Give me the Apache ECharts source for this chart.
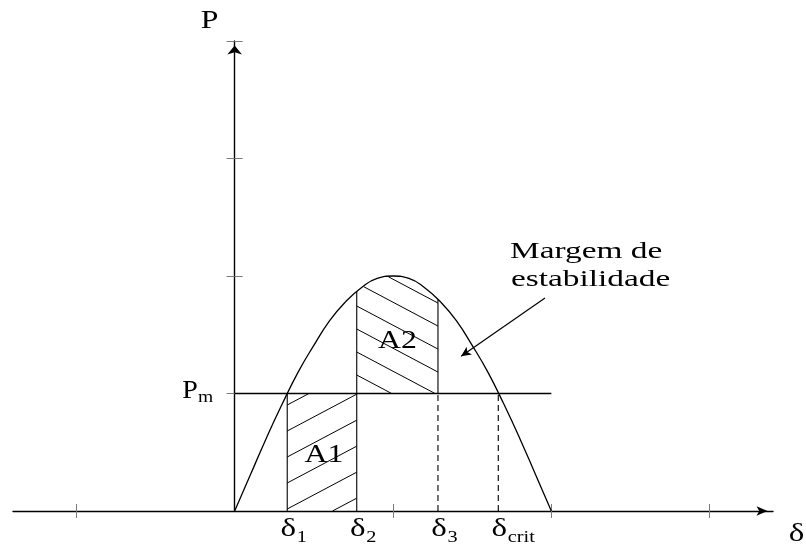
<!DOCTYPE html>
<html>
<head>
<meta charset="utf-8">
<script src="https://cdn.jsdelivr.net/npm/echarts@6/dist/echarts.min.js"></script>
<style>
  html, body { margin: 0; padding: 0; background: #ffffff; }
  #chart { width: 806px; height: 545px; }
</style>
</head>
<body>
<div id="chart"></div>
<script>
// Power–angle characteristic P(δ) with the equal-area regions A1 / A2.

// Curve samples (δ, P)
const deltaSamples = [0, 0.1, 0.2, 0.3, 0.4, 0.5, 0.6, 0.7, 0.8, 0.9, 1.0,
                      1.1, 1.2, 1.3, 1.4, 1.5, 1.6, 1.7, 1.8, 1.9, 2.0];
const powerSamples = [0, 0.31, 0.62, 0.91, 1.18, 1.41, 1.62, 1.78, 1.90, 1.98, 2.00,
                      1.98, 1.90, 1.78, 1.62, 1.41, 1.18, 0.91, 0.62, 0.31, 0];

// Mechanical power level Pm and its extent along δ
const mechanicalPower = 1;
const pmLineStart = 0;
const pmLineEnd = 2;

// Characteristic angles δ1, δ2, δ3, δcrit
const deltaMarks = [0.332, 0.771, 1.284, 1.665];
const deltaSubscripts = ['1', '2', '3', 'crit'];

// Curve height at δ2 and δ3 (top of the A2 region)
const powerAtDelta2 = 1.87;
const powerAtDelta3 = 1.80;

// Axis extents and tick positions
const xRange = [-1.4, 3.4];
const yRange = [0, 4];
const xTicks = [-1, 1, 2, 3];
const yTicks = [1, 2, 3, 4];

// Arrow pointing at the stability margin (from, to)
const marginArrow = [[1.96, 1.813], [1.43, 1.317]];

// Texts
const axisNameP = 'P';
const axisNameDelta = 'δ';
const pmMain = 'P';
const pmSub = 'm';
const areaNames = ['A1', 'A2'];
const marginText = ['Margem de', 'estabilidade'];

const SERIF = '"Liberation Serif", "Times New Roman", serif';
const TEXT_SX = 1.27;   // horizontal stretch of the labels
const NOTE_SX = 1.45;

function text(x, y, s, size, align, sx) {
  return {
    type: 'text', x: x, y: y, scaleX: sx, scaleY: 1,
    style: {
      text: s, font: size + 'px ' + SERIF, fill: '#000',
      textAlign: align, textVerticalAlign: 'middle'
    }
  };
}

// Clip a family of parallel hatch lines to the band topAt(x) <= y <= botAt(x), xL <= x <= xR
function hatch(xL, xR, topAt, botAt, y0, slope, gap) {
  const out = [];
  const n = Math.ceil((xR - xL) * 4);
  for (let k = -12; k <= 12; k++) {
    const b = y0 + k * gap;
    let s = null, e = null;
    for (let i = 0; i <= n; i++) {
      const x = xL + (xR - xL) * i / n;
      const y = b + slope * (x - xL);
      if (y >= topAt(x) - 0.01 && y <= botAt(x) + 0.01) {
        if (s === null) s = x;
        e = x;
      }
    }
    if (s !== null && e - s > 0.5) {
      out.push({
        type: 'line',
        shape: { x1: s, y1: b + slope * (s - xL), x2: e, y2: b + slope * (e - xL) },
        style: { stroke: '#000', lineWidth: 1 }
      });
    }
  }
  return out;
}

function curvePixelTop(api) {
  const pts = deltaSamples.map((d, i) => api.coord([d, powerSamples[i]]));
  return function (x) {
    for (let i = 0; i < pts.length - 1; i++) {
      const a = pts[i], b = pts[i + 1];
      if (x >= a[0] && x <= b[0]) {
        const t = (x - a[0]) / (b[0] - a[0]);
        return a[1] + t * (b[1] - a[1]);
      }
    }
    return pts[pts.length - 1][1];
  };
}

const chart = echarts.init(document.getElementById('chart'), null, { renderer: 'canvas' });

const tickStyle = { color: '#7a7a7a', width: 1 };

const option = {
  animation: false,
  backgroundColor: '#ffffff',
  grid: { left: 13, right: 33, top: 41, bottom: 34, containLabel: false },
  xAxis: [
    {
      type: 'value', min: xRange[0], max: xRange[1],
      axisLine: {
        onZero: true, symbol: ['none', 'arrow'], symbolSize: [7, 11], symbolOffset: [0, -5.5],
        lineStyle: { color: '#000', width: 1.4 }
      },
      axisTick: { show: true, customValues: xTicks, length: 7, inside: false, lineStyle: tickStyle },
      axisLabel: { show: false },
      splitLine: { show: false }
    },
    {
      type: 'value', min: xRange[0], max: xRange[1], position: 'bottom',
      axisLine: { show: false, onZero: true },
      axisTick: { show: true, customValues: xTicks, length: 7, inside: true, lineStyle: tickStyle },
      axisLabel: { show: false },
      splitLine: { show: false }
    }
  ],
  yAxis: [
    {
      type: 'value', min: yRange[0], max: yRange[1],
      axisLine: {
        onZero: true, symbol: ['none', 'arrow'], symbolSize: [11, 9], symbolOffset: [0, -4.5],
        lineStyle: { color: '#000', width: 1.4 }
      },
      axisTick: { show: true, customValues: yTicks, length: 8, inside: false, lineStyle: tickStyle },
      axisLabel: { show: false },
      splitLine: { show: false }
    },
    {
      type: 'value', min: yRange[0], max: yRange[1], position: 'left',
      axisLine: { show: false, onZero: true },
      axisTick: { show: true, customValues: yTicks, length: 8, inside: true, lineStyle: tickStyle },
      axisLabel: { show: false },
      splitLine: { show: false }
    }
  ],
  series: [
    // Hatching of A1 (rectangle below Pm) and A2 (between Pm and the curve)
    {
      type: 'custom', name: 'hatch', silent: true, z: 2,
      data: [[0, 0]],
      renderItem: function (params, api) {
        const l1 = api.coord([deltaMarks[0], 0]);
        const r1 = api.coord([deltaMarks[1], mechanicalPower]);
        const a1 = hatch(l1[0], r1[0], () => r1[1], () => l1[1], l1[1] - 2, -0.53, 26);
        const l2 = api.coord([deltaMarks[1], mechanicalPower]);
        const r2 = api.coord([deltaMarks[2], mechanicalPower]);
        const top = curvePixelTop(api);
        const a2 = hatch(l2[0], r2[0], top, () => l2[1], l2[1] - 18.5, 0.53, 23);
        return { type: 'group', children: a1.concat(a2) };
      }
    },
    // Power–angle curve
    {
      type: 'line', name: 'P(δ)', z: 5,
      data: deltaSamples.map((d, i) => [d, powerSamples[i]]),
      smooth: true, showSymbol: false, silent: true,
      lineStyle: { color: '#000', width: 1.3 }
    },
    // Pm level and the stability margin arrow
    {
      type: 'line', name: 'Pm', z: 5,
      data: [[pmLineStart, mechanicalPower], [pmLineEnd, mechanicalPower]],
      showSymbol: false, silent: true,
      lineStyle: { color: '#000', width: 1.3 },
      markLine: {
        silent: true, animation: false,
        symbol: ['none', 'arrow'], symbolSize: [7, 10],
        label: { show: false },
        lineStyle: { color: '#000', width: 1.2, type: 'solid' },
        emphasis: { disabled: true },
        data: [[{ coord: marginArrow[0] }, { coord: marginArrow[1] }]]
      }
    },
    // Region borders at δ1, δ2, δ3 (solid) and projections to the δ axis (dashed)
    {
      type: 'custom', name: 'borders', silent: true, z: 4,
      data: [[0, 0]],
      renderItem: function (params, api) {
        const solid = [
          [[deltaMarks[0], 0], [deltaMarks[0], mechanicalPower]],
          [[deltaMarks[1], 0], [deltaMarks[1], powerAtDelta2]],
          [[deltaMarks[2], mechanicalPower], [deltaMarks[2], powerAtDelta3]]
        ];
        const dashed = [
          [[deltaMarks[2], 0], [deltaMarks[2], mechanicalPower]],
          [[deltaMarks[3], 0], [deltaMarks[3], mechanicalPower]]
        ];
        const seg = (s, dash) => {
          const a = api.coord(s[0]), b = api.coord(s[1]);
          return {
            type: 'line', shape: { x1: a[0], y1: a[1], x2: b[0], y2: b[1] },
            style: { stroke: '#000', lineWidth: 1.1, lineDash: dash ? [6, 4] : null }
          };
        };
        return {
          type: 'group',
          children: solid.map(s => seg(s, false)).concat(dashed.map(s => seg(s, true)))
        };
      }
    },
    // Labels
    {
      type: 'custom', name: 'labels', silent: true, z: 10,
      data: [[0, 0]],
      renderItem: function (params, api) {
        const kids = [];
        // δ1 … δcrit under the axis
        deltaMarks.forEach((d, i) => {
          const p = api.coord([d, 0]);
          kids.push(text(p[0] + 1, p[1] + 18, 'δ', 26, 'center', TEXT_SX));
          kids.push(text(p[0] + 9.5, p[1] + 26.5, deltaSubscripts[i], 16, 'left', TEXT_SX));
        });
        // Axis names
        const yEnd = api.coord([0, yRange[1]]);
        kids.push(text(yEnd[0] - 25, yEnd[1] - 20, axisNameP, 25, 'center', TEXT_SX));
        const xEnd = api.coord([xRange[1], 0]);
        kids.push(text(xEnd[0] + 23.5, xEnd[1] + 23, axisNameDelta, 26, 'center', TEXT_SX));
        // Pm
        const pm = api.coord([0, mechanicalPower]);
        kids.push(text(pm[0] - 44.7, pm[1] - 2.5, pmMain, 25, 'center', 1.12));
        kids.push(text(pm[0] - 36.7, pm[1] + 4.5, pmSub, 17, 'left', 1.15));
        // Area names
        const c1a = api.coord([deltaMarks[0], 0]);
        const c1b = api.coord([deltaMarks[1], mechanicalPower]);
        kids.push(text((c1a[0] + c1b[0]) / 2 + 2, (c1a[1] + c1b[1]) / 2 + 3, areaNames[0], 25, 'center', TEXT_SX));
        const c2a = api.coord([deltaMarks[1], mechanicalPower]);
        const c2b = api.coord([deltaMarks[2], mechanicalPower]);
        kids.push(text((c2a[0] + c2b[0]) / 2, c2a[1] - 52, areaNames[1], 25, 'center', TEXT_SX));
        // Stability margin note
        const tail = api.coord(marginArrow[0]);
        kids.push(text(tail[0] - 35, tail[1] - 46, marginText[0], 23, 'left', NOTE_SX));
        kids.push(text(tail[0] - 34, tail[1] - 18, marginText[1], 23, 'left', NOTE_SX));
        return { type: 'group', children: kids };
      }
    }
  ]
};

chart.setOption(option);
</script>
</body>
</html>
